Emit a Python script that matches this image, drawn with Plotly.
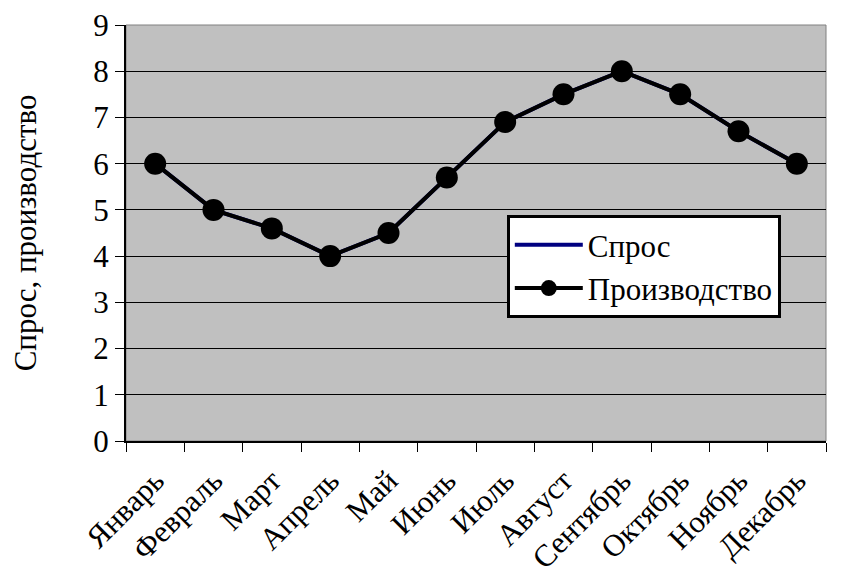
import plotly.graph_objects as go

months = ["Январь", "Февраль", "Март", "Апрель", "Май", "Июнь",
          "Июль", "Август", "Сентябрь", "Октябрь", "Ноябрь", "Декабрь"]
demand = [6, 5, 4.6, 4, 4.5, 5.7, 6.9, 7.5, 8, 7.5, 6.7, 6]
production = [6, 5, 4.6, 4, 4.5, 5.7, 6.9, 7.5, 8, 7.5, 6.7, 6]
y_ticks = [0, 1, 2, 3, 4, 5, 6, 7, 8, 9]

FONT = '"Liberation Serif", "Times New Roman", serif'

fig = go.Figure()
fig.add_trace(go.Scatter(
    x=months, y=demand, name="Спрос", mode="lines",
    line=dict(color="#000080", width=4),
))
fig.add_trace(go.Scatter(
    x=months, y=production, name="Производство", mode="lines+markers",
    line=dict(color="black", width=4),
    marker=dict(color="black", size=22),
))

fig.update_layout(
    width=851, height=578,
    margin=dict(l=126, r=25, t=25, b=137),
    paper_bgcolor="white",
    plot_bgcolor="#C0C0C0",
    font=dict(family=FONT, size=31, color="black"),
    showlegend=True,
    legend=dict(
        x=0.544, y=0.543, xanchor="left", yanchor="top",
        bgcolor="white", bordercolor="black", borderwidth=3,
        font=dict(family=FONT, size=31, color="black"),
        itemwidth=68, tracegroupgap=0,
    ),
    shapes=[dict(
        type="rect", xref="paper", yref="paper", x0=0, x1=1, y0=0, y1=1,
        line=dict(color="#808080", width=1), layer="below",
    )],
)

fig.update_xaxes(
    type="category", tickangle=-45, tickson="boundaries",
    ticks="outside", ticklen=9, tickcolor="black", tickwidth=1,
    showline=True, linecolor="black", linewidth=2,
    showgrid=False, range=[-0.5, 11.5], automargin=False,
    ticklabelstandoff=7,
    tickfont=dict(family=FONT, size=31),
)
fig.update_yaxes(
    range=[0, 9], tickvals=y_ticks, ticks="outside", ticklen=9,
    tickcolor="black", tickwidth=1,
    showline=True, linecolor="black", linewidth=2,
    showgrid=True, gridcolor="black", gridwidth=1, zeroline=False,
    automargin=False,
    tickfont=dict(family=FONT, size=31),
    title=dict(text="Спрос, производство", font=dict(family=FONT, size=31), standoff=47),
)

fig.write_html("out.html")
